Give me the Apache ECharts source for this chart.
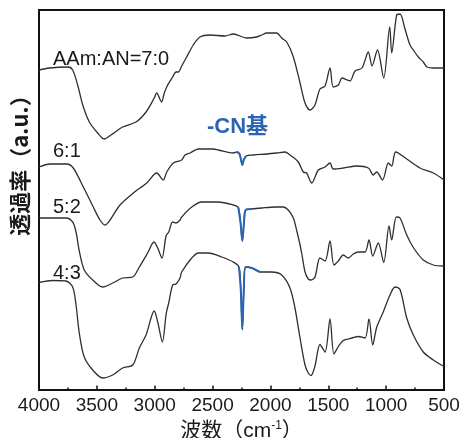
<!DOCTYPE html>
<html>
<head>
<meta charset="utf-8">
<script src="https://cdn.jsdelivr.net/npm/echarts@6/dist/echarts.min.js"></script>
<style>
  html, body { margin: 0; padding: 0; background: #fff; }
  #chart { width: 463px; height: 438px; }
</style>
</head>
<body>
<div id="chart"></div>
<script>
// 波数 (cm-1) と 透過率 (a.u., 各曲線はオフセット済み)
const s70 = [[4000,320],[3910,322],[3750,323],[3709,320],[3666,305],[3622,285],[3565,268],[3493,257],[3436,251],[3378,255],[3277,263],[3162,268],[3075,278],[3004,292],[2983,297],[2941,288],[2917,297],[2888,305],[2845,313],[2816,318],[2796,318],[2767,324],[2724,333],[2667,345],[2609,353],[2522,355],[2393,354],[2321,356],[2205,352],[2119,353],[2075,355],[2032,357],[1946,357],[1903,352],[1859,348],[1802,333],[1744,307],[1701,287],[1658,280],[1615,285],[1572,301],[1528,304],[1485,322],[1457,303],[1413,305],[1381,312],[1338,310],[1312,309],[1269,319],[1209,322],[1154,338],[1122,324],[1075,340],[1021,312],[969,363],[952,337],[909,375],[880,376],[837,361],[794,345],[765,340],[722,333],[679,328],[647,323],[592,322],[500,322]]
const s61 = [[4000,223],[3905,226],[3761,226],[3704,222],[3617,203],[3531,183],[3473,170],[3430,165],[3386,170],[3300,185],[3185,197],[3069,207],[2983,217],[2926,210],[2896,218],[2839,227],[2767,230],[2738,235],[2695,237],[2623,241],[2494,241],[2450,240],[2321,237],[2289,238],[2267,236],[2254,230],[2243,225],[2231,230],[2211,234],[2148,235],[2032,236],[1946,237],[1874,238],[1831,235],[1759,228],[1716,218],[1687,217],[1643,207],[1586,220],[1528,223],[1485,227],[1457,221],[1370,222],[1254,224],[1154,222],[1111,215],[1082,218],[1031,210],[981,227],[952,224],[917,238],[822,231],[707,222],[592,217],[500,210]]
const s52 = [[4000,172],[3882,172],[3767,172],[3709,168],[3680,158],[3652,139],[3609,120],[3536,110],[3450,103],[3363,107],[3277,112],[3190,113],[3133,123],[3061,137],[3006,148],[2974,142],[2937,132],[2902,154],[2879,158],[2845,168],[2816,167],[2781,170],[2767,173],[2680,183],[2594,188],[2450,188],[2321,185],[2278,182.5],[2259,168],[2243,149],[2228,168],[2214,180],[2162,181],[2075,182],[1960,183],[1889,183],[1846,180],[1802,172],[1770,158],[1744,145],[1727,135],[1701,118],[1673,111],[1649,110],[1615,113],[1572,132],[1528,129],[1485,149],[1451,125],[1413,129],[1370,135],[1327,132],[1284,136],[1241,138],[1183,138],[1148,150],[1116,134],[1068,147],[1021,127.5],[975,164],[952,150],[912,173],[880,172],[822,155],[765,142.5],[679,130],[592,125],[500,124]]
const s43 = [[4000,107.5],[3882,109.5],[3767,109],[3709,103],[3680,85],[3652,57],[3609,33],[3536,20],[3450,12],[3363,15],[3277,22],[3190,25],[3133,42],[3075,55],[3004,79],[2974,68],[2934,48],[2900,77],[2879,87],[2845,105],[2816,106],[2781,112],[2767,118],[2680,132],[2623,137],[2537,137],[2421,133],[2321,128],[2272,123],[2256,100],[2243,60.5],[2230,100],[2214,123],[2162,122],[2090,118],[1989,118],[1903,115],[1831,102],[1788,82],[1744,52],[1701,25],[1673,17],[1649,14.5],[1615,24],[1572,45.5],[1528,38],[1485,71],[1451,36],[1413,43.5],[1370,49.5],[1327,51],[1284,52.5],[1241,53.5],[1183,52],[1148,71],[1116,45],[1082,62.5],[1025,78],[967,95],[923,103],[880,100.5],[822,72],[765,55],[679,38],[592,30],[500,23.5]]

// -CN基 を青で示す範囲
const cn61 = [2300, 2150]
const cn52 = [2300, 2155]
const cn43 = [2310, 2075]

const xTicks = [4000, 3500, 3000, 2500, 2000, 1500, 1000, 500]
const labels = ['AAm:AN=7:0', '6:1', '5:2', '4:3']

const FONT = "'Liberation Sans', 'Noto Sans CJK JP', sans-serif"
const BLUE = '#2c64b4'

function pick (data, range) {
  return data.filter(d => d[0] <= range[0] && d[0] >= range[1])
}

function blackLine (data) {
  return {
    type: 'line',
    data: data,
    symbol: 'none',
    smooth: 0.3,
    lineStyle: { color: '#2f2f2f', width: 1.3 },
    z: 2
  }
}

function blueLine (data) {
  return {
    type: 'line',
    data: data,
    symbol: 'none',
    smooth: 0.3,
    lineStyle: { color: BLUE, width: 2 },
    z: 3
  }
}

const chart = echarts.init(document.getElementById('chart'))

const option = {
  backgroundColor: '#fff',
  animation: false,
  grid: {
    left: 39,
    right: 19,
    top: 10,
    bottom: 48,
    outerBoundsMode: 'none',
    show: true,
    borderColor: '#111',
    borderWidth: 2
  },
  xAxis: {
    type: 'value',
    inverse: true,
    min: 500,
    max: 4000,
    interval: 500,
    axisLine: { show: false },
    axisTick: { show: true, inside: true, length: 4.5, lineStyle: { color: '#111', width: 1.5 } },
    minorTick: { show: true, splitNumber: 2, length: 2.5, lineStyle: { color: '#111', width: 1.5 } },
    splitLine: { show: false },
    axisLabel: {
      margin: 6,
      fontSize: 19,
      color: '#1a1a1a',
      fontFamily: FONT,
      formatter: v => xTicks.indexOf(v) >= 0 ? String(v) : ''
    },
    name: '{a|波数（cm}{s|-1}{a|）}',
    nameLocation: 'middle',
    nameGap: 27,
    nameTextStyle: {
      rich: {
        a: { fontSize: 21, color: '#1a1a1a', fontFamily: FONT },
        s: { fontSize: 12, color: '#1a1a1a', fontFamily: FONT, verticalAlign: 'top', padding: [0, 0, 10, 0] }
      }
    }
  },
  yAxis: {
    type: 'value',
    min: 0,
    max: 380,
    axisLine: { show: false },
    axisTick: { show: false },
    axisLabel: { show: false },
    splitLine: { show: false }
  },
  graphic: [
    {
      type: 'text',
      x: 20,
      y: 160,
      rotation: Math.PI / 2,
      style: {
        text: '透過率（a.u.）',
        font: "bold 22px 'Noto Sans CJK JP', 'Liberation Sans', sans-serif",
        fill: '#1a1a1a',
        align: 'center',
        verticalAlign: 'middle'
      }
    },
    { type: 'text', left: 53, top: 49, style: { text: labels[0], font: '20px ' + FONT, fill: '#1a1a1a' } },
    { type: 'text', left: 53, top: 141, style: { text: labels[1], font: '20px ' + FONT, fill: '#1a1a1a' } },
    { type: 'text', left: 53, top: 197, style: { text: labels[2], font: '20px ' + FONT, fill: '#1a1a1a' } },
    { type: 'text', left: 53, top: 263, style: { text: labels[3], font: '20px ' + FONT, fill: '#1a1a1a' } },
    { type: 'text', left: 207, top: 116, style: { text: '-CN基', font: 'bold 22px ' + FONT, fill: BLUE } }
  ],
  series: [
    blackLine(s70),
    blackLine(s61),
    blackLine(s52),
    blackLine(s43),
    blueLine(pick(s61, cn61)),
    blueLine(pick(s52, cn52)),
    blueLine(pick(s43, cn43))
  ]
}

chart.setOption(option)
</script>
</body>
</html>
